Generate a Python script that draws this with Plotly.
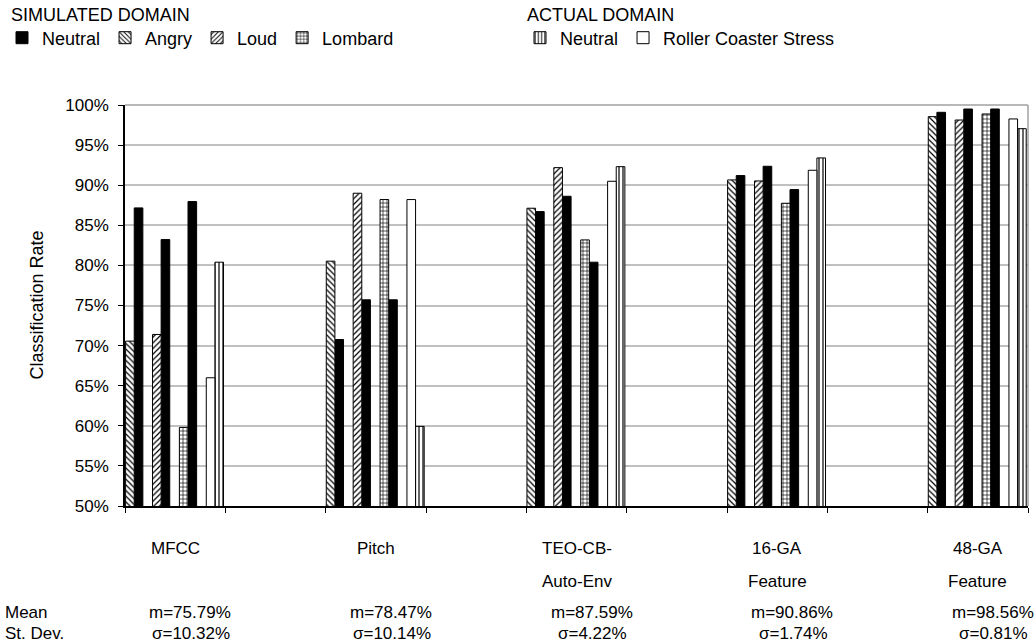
import plotly.graph_objects as go

# ---------------- data ----------------
feature_labels = [["MFCC"], ["Pitch"], ["TEO-CB-", "Auto-Env"], ["16-GA", "Feature"], ["48-GA", "Feature"]]
feature_slots = [0, 2, 4, 6, 8]          # category slot of each feature (empty slots between)
n_slots = 9

angry = [70.56, 80.53, 87.13, 90.66, 98.55]
neutral_vs_angry = [87.17, 70.76, 86.71, 91.20, 99.09]
loud = [71.39, 89.00, 92.19, 90.53, 98.13]
neutral_vs_loud = [83.22, 75.71, 88.62, 92.36, 99.50]
lombard = [59.80, 88.21, 83.18, 87.75, 98.88]
neutral_vs_lombard = [87.96, 75.71, 80.40, 89.45, 99.50]
roller_coaster = [65.99, 88.21, 90.49, 91.86, 98.26]
actual_neutral = [80.40, 59.93, 92.31, 93.40, 97.05]

means = ["m=75.79%", "m=78.47%", "m=87.59%", "m=90.86%", "m=98.56%"]
stdevs = ["σ=10.32%", "σ=10.14%", "σ=4.22%", "σ=1.74%", "σ=0.81%"]

y_ticks = [50, 55, 60, 65, 70, 75, 80, 85, 90, 95, 100]

# ---------------- layout helpers ----------------
FONT = "Liberation Sans, Arial, sans-serif"
BW = 0.086      # bar width (category units)
PAIR = 0.268    # pair spacing
OFF = 0.006     # offset of first bar from category start


def xs(pair, second):
    return [s + OFF + pair * PAIR + BW * (1.5 if second else 0.5) for s in feature_slots]


def pattern_marker(shape, size, solidity):
    return dict(color="white", line=dict(color="black", width=1),
                pattern=dict(shape=shape, size=size, solidity=solidity,
                             fgcolor="black", bgcolor="white", fillmode="replace"))


fig = go.Figure()

fig.add_trace(go.Bar(
    name="Neutral", legend="legend",
    x=xs(0, True) + xs(1, True) + xs(2, True),
    y=neutral_vs_angry + neutral_vs_loud + neutral_vs_lombard,
    width=BW, marker=dict(color="black", line=dict(color="black", width=1)),
))
fig.add_trace(go.Bar(name="Angry", legend="legend", x=xs(0, False), y=angry, width=BW,
                     marker=pattern_marker("\\", 4, 0.3)))
fig.add_trace(go.Bar(name="Loud", legend="legend", x=xs(1, False), y=loud, width=BW,
                     marker=pattern_marker("/", 4, 0.3)))
fig.add_trace(go.Bar(name="Lombard", legend="legend", x=xs(2, False), y=lombard, width=BW,
                     marker=pattern_marker("+", 4, 0.3)))
fig.add_trace(go.Bar(name="Neutral", legend="legend2", x=xs(3, True), y=actual_neutral, width=BW,
                     marker=pattern_marker("|", 4, 0.3)))
fig.add_trace(go.Bar(name="Roller Coaster Stress", legend="legend2", x=xs(3, False), y=roller_coaster,
                     width=BW, marker=dict(color="white", line=dict(color="black", width=1))))

# plot area geometry (pixels)
L, R, T, B = 125, 8, 105, 138
W, H = 1036, 644
pw, ph = W - L - R, H - T - B


def px_x(p):
    return (p - L) / pw


def px_y(p):
    return (H - B - p) / ph


def txt(x, y, text, xanchor="center", size=17, xref="paper", angle=0):
    return dict(x=x, xref=xref, y=y, yref="paper", text=text, showarrow=False,
                xanchor=xanchor, yanchor="middle", textangle=angle,
                font=dict(size=size, color="black", family=FONT))


annotations = []
for slot, lines, m, s in zip(feature_slots, feature_labels, means, stdevs):
    for i, line in enumerate(lines):
        annotations.append(txt(slot + 0.5, px_y(548 + 33 * i), line, xref="x"))
    annotations.append(txt(slot + 0.65, px_y(612), m, xref="x"))
    annotations.append(txt(slot + 0.66, px_y(633), s, xref="x"))

annotations.append(txt(px_x(3), px_y(612), "Mean", xanchor="left"))
annotations.append(txt(px_x(3), px_y(633), "St. Dev.", xanchor="left"))
annotations.append(txt(px_x(36), 0.5, "Classification Rate", size=18, angle=-90))
annotations.append(txt(px_x(9), px_y(15), "SIMULATED DOMAIN", xanchor="left", size=18))
annotations.append(txt(px_x(525), px_y(15), "ACTUAL DOMAIN", xanchor="left", size=18))

legend_common = dict(orientation="h", xanchor="left", yanchor="middle", bgcolor="rgba(0,0,0,0)",
                     font=dict(size=18, color="black", family=FONT), itemclick=False,
                     tracegroupgap=0, borderwidth=0)

fig.update_layout(
    width=W, height=H,
    margin=dict(l=L, r=R, t=T, b=B, autoexpand=False),
    paper_bgcolor="white", plot_bgcolor="white",
    barmode="overlay",
    font=dict(family=FONT, size=17, color="black"),
    legend=dict(**legend_common, x=px_x(2), y=px_y(38)),
    legend2=dict(**legend_common, x=px_x(520), y=px_y(38)),
    xaxis=dict(range=[0, n_slots], tickvals=list(range(n_slots + 1)), showticklabels=False,
               ticks="outside", ticklen=5, tickcolor="black", showgrid=False, zeroline=False,
               showline=True, linecolor="black", linewidth=1.5, fixedrange=True),
    yaxis=dict(range=[50, 100], tickvals=y_ticks, ticktext=[f"{v}%" for v in y_ticks],
               ticks="outside", ticklen=5, tickcolor="black", showgrid=True, gridcolor="#c0c0c0",
               gridwidth=1.5, zeroline=False, showline=True, linecolor="black", linewidth=1.5,
               tickfont=dict(size=17, color="black", family=FONT), ticklabelstandoff=6),
    annotations=annotations,
    shapes=[
        dict(type="line", xref="paper", yref="paper", x0=0, x1=1, y0=1, y1=1,
             line=dict(color="#a0a0a0", width=1.5)),
        dict(type="line", xref="paper", yref="paper", x0=1, x1=1, y0=0, y1=1,
             line=dict(color="#a0a0a0", width=1.5)),
    ],
)

fig.write_html("out.html", config={"displayModeBar": False},
               post_script="document.body.style.margin='0';")
